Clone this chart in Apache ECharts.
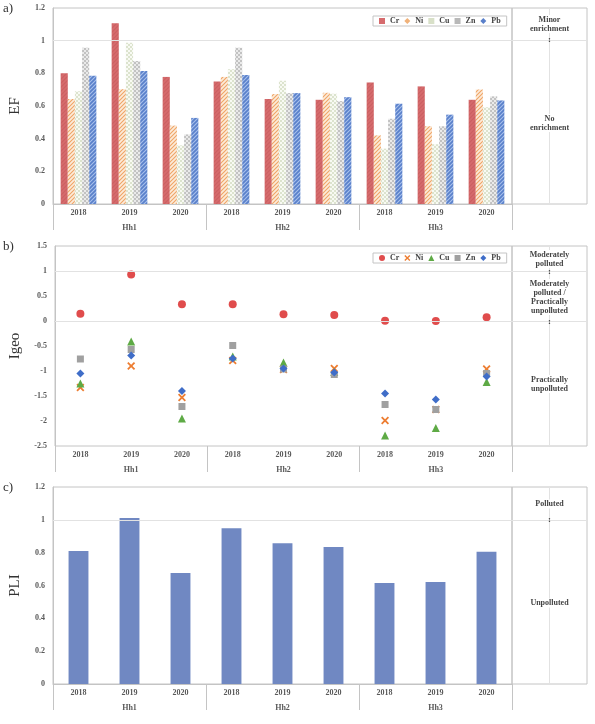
<!DOCTYPE html>
<html>
<head>
<meta charset="utf-8">
<script src="https://cdn.jsdelivr.net/npm/echarts@6/dist/echarts.min.js"></script>
<style>
html,body{margin:0;padding:0;background:#fff;}
#chart{width:595px;height:724px;}
</style>
</head>
<body>
<div id="chart"></div>
<script>
// ---- data ----
const years = ['2018','2019','2020','2018','2019','2020','2018','2019','2020'];
const groups = ['Hh1','Hh2','Hh3'];
const metals = ['Cr','Ni','Cu','Zn','Pb'];

const efCr = [0.80, 1.107, 0.778, 0.75, 0.643, 0.638, 0.744, 0.72, 0.638];
const efNi = [0.643, 0.703, 0.48, 0.778, 0.673, 0.681, 0.42, 0.476, 0.701];
const efCu = [0.69, 0.987, 0.359, 0.825, 0.754, 0.675, 0.339, 0.366, 0.593];
const efZn = [0.957, 0.876, 0.426, 0.957, 0.679, 0.63, 0.522, 0.476, 0.659];
const efPb = [0.785, 0.815, 0.527, 0.79, 0.679, 0.654, 0.614, 0.547, 0.634];

const igCr = [0.147, 0.93, 0.333, 0.333, 0.133, 0.12, 0.007, 0.0, 0.073];
const igNi = [-1.33, -0.9, -1.53, -0.79, -0.97, -0.95, -1.99, -1.77, -0.96];
const igCu = [-1.25, -0.41, -1.95, -0.71, -0.83, -1.02, -2.29, -2.14, -1.22];
const igZn = [-0.76, -0.57, -1.71, -0.49, -0.96, -1.07, -1.67, -1.77, -1.05];
const igPb = [-1.05, -0.69, -1.4, -0.75, -0.95, -1.03, -1.45, -1.57, -1.11];

const pli = [0.81, 1.011, 0.676, 0.948, 0.857, 0.835, 0.615, 0.621, 0.806];

// ---- styling helpers ----
const FONT = '"Liberation Serif", "DejaVu Serif", serif';
const GRAY = '#C4C4C4';
const LBL = '#5A5A5A';

function pattern(bg, fg, kind) {
  const c = document.createElement('canvas');
  c.width = 4; c.height = 4;
  const g = c.getContext('2d');
  g.fillStyle = bg; g.fillRect(0, 0, 4, 4);
  g.strokeStyle = fg; g.fillStyle = fg; g.lineWidth = 1.1;
  if (kind === 'diag') {
    g.beginPath();
    g.moveTo(0, 4); g.lineTo(4, 0);
    g.moveTo(-1, 1); g.lineTo(1, -1);
    g.moveTo(3, 5); g.lineTo(5, 3);
    g.stroke();
  } else {
    g.fillRect(0, 0, 2, 2); g.fillRect(2, 2, 2, 2);
  }
  return { image: c, repeat: 'repeat' };
}

const efFill = [
  pattern('#D66B6D', '#CB6062', 'diag'),
  pattern('#FCEBDA', '#EFA566', 'diag'),
  pattern('#F8FAF3', '#DCE3CE', 'dots'),
  pattern('#EAEAEA', '#C2C2C2', 'grid'),
  pattern('#5A80CA', '#A8C0EC', 'diag')
];
const legendColA = ['#D66B6D', '#F0B27A', '#D8E0C8', '#B8B8B8', '#5A80CA'];
const legendIconA = ['rect', 'diamond', 'rect', 'rect', 'diamond'];

const scColors = ['#E04C4C', '#ED7D31', '#5EAA45', '#A0A0A0', '#3F6DC8'];
const xPath = 'path://M0,1.6 L1.6,0 L5,3.4 L8.4,0 L10,1.6 L6.6,5 L10,8.4 L8.4,10 L5,6.6 L1.6,10 L0,8.4 L3.4,5 Z';
const scSymbols = ['circle', xPath, 'triangle', 'rect', 'diamond'];
const scSizes = [8, 8, 8, 7, 8];

// ---- layout ----
const PL = 49, PW = 463, BX = 512, BW = 75;
const panels = [
  { top: 8, height: 196, min: 0, max: 1.2, interval: 0.2, name: 'EF', thr: [1] },
  { top: 246, height: 200, min: -2.5, max: 1.5, interval: 0.5, name: 'Igeo', thr: [1, 0] },
  { top: 487, height: 197, min: 0, max: 1.2, interval: 0.2, name: 'PLI', thr: [1] }
];

const grid = [], xAxis = [], yAxis = [], series = [];
panels.forEach((p, i) => {
  grid.push({ left: PL, top: p.top, width: PW, height: p.height, show: true, borderColor: GRAY, borderWidth: 1, containLabel: false });
  grid.push({ left: BX, top: p.top, width: BW, height: p.height, show: true, borderColor: GRAY, borderWidth: 1, containLabel: false });
  const gMain = i * 2, gBox = i * 2 + 1;
  xAxis.push({
    type: 'category', gridIndex: gMain, data: years, position: 'bottom',
    axisLine: { show: true, lineStyle: { color: GRAY } },
    axisTick: { show: false },
    axisLabel: { margin: 5, fontSize: 8, fontWeight: 'bold', fontFamily: FONT, color: LBL, interval: 0 }
  });
  xAxis.push({
    type: 'category', gridIndex: gMain, data: groups, position: 'bottom',
    axisLine: { show: false },
    axisTick: { show: true, length: 26, lineStyle: { color: GRAY } },
    axisLabel: { margin: 20, fontSize: 8, fontWeight: 'bold', fontFamily: FONT, color: LBL }
  });
  xAxis.push({ type: 'value', gridIndex: gBox, min: 0, max: 1, show: false });
  yAxis.push({
    type: 'value', gridIndex: gMain, min: p.min, max: p.max, interval: p.interval,
    name: p.name, nameLocation: 'middle', nameGap: i === 1 ? 32 : 30,
    nameTextStyle: { fontSize: 15, fontFamily: FONT, color: '#333' },
    axisLine: { show: true, lineStyle: { color: GRAY } },
    axisTick: { show: false },
    splitLine: { show: false },
    axisLabel: { margin: 8, fontSize: 8, fontWeight: 'bold', fontFamily: FONT, color: LBL }
  });
  yAxis.push({ type: 'value', gridIndex: gBox, min: p.min, max: p.max, show: false, splitLine: { show: false } });
});

const thrLine = (vals) => ({
  silent: true, symbol: 'none', label: { show: false },
  lineStyle: { color: '#E2E2E2', type: 'solid', width: 1 },
  data: vals.map(v => ({ yAxis: v }))
});

const efData = [efCr, efNi, efCu, efZn, efPb];
metals.forEach((m, k) => {
  series.push({
    name: m, type: 'bar', xAxisIndex: 0, yAxisIndex: 0, data: efData[k],
    barGap: '0%', barCategoryGap: '30%',
    itemStyle: { color: efFill[k] },
    markLine: k === 0 ? thrLine(panels[0].thr) : undefined
  });
});
const igData = [igCr, igNi, igCu, igZn, igPb];
metals.forEach((m, k) => {
  series.push({
    name: m, type: 'scatter', xAxisIndex: 3, yAxisIndex: 2, data: igData[k],
    symbol: scSymbols[k], symbolSize: scSizes[k],
    itemStyle: { color: scColors[k], opacity: 1 },
    markLine: k === 0 ? thrLine(panels[1].thr) : undefined
  });
});
series.push({
  name: 'PLI', type: 'bar', xAxisIndex: 6, yAxisIndex: 4, data: pli,
  barCategoryGap: '61%', itemStyle: { color: '#7088C2' },
  markLine: thrLine(panels[2].thr)
});
panels.forEach((p, i) => {
  series.push({
    type: 'scatter', xAxisIndex: i * 3 + 2, yAxisIndex: i * 2 + 1, data: [[0.5, p.min]], symbolSize: 0, silent: true,
    markLine: {
      silent: true, symbol: 'none', label: { show: false },
      lineStyle: { color: '#E2E2E2', type: 'solid', width: 1 },
      data: p.thr.map(v => ({ yAxis: v })).concat([{ xAxis: 0.5 }])
    }
  });
});

// ---- annotations ----
const boxText = (txt, y) => ({
  type: 'text', x: BX + BW / 2, y: y, z: 100,
  style: { text: txt, align: 'center', verticalAlign: 'middle', fontSize: 8, fontWeight: 'bold', fontFamily: FONT, fill: '#444', lineHeight: 9, backgroundColor: '#fff', padding: [0, 1] }
});
const colon = (y) => ({
  type: 'text', x: BX + BW / 2, y: y, z: 100,
  style: { text: ':', align: 'center', verticalAlign: 'middle', fontSize: 9, fontWeight: 'bold', fontFamily: FONT, fill: '#444' }
});
const panelLbl = (t, y) => ({
  type: 'text', x: 3, y: y,
  style: { text: t, fontSize: 13, fontFamily: FONT, fill: '#333', verticalAlign: 'middle' }
});
const graphic = [
  panelLbl('a)', 9), panelLbl('b)', 247), panelLbl('c)', 488),
  boxText('Minor\nenrichment', 24), colon(40), boxText('No\nenrichment', 123),
  boxText('Moderately\npolluted', 259), colon(272),
  boxText('Moderately\npolluted /\nPractically\nunpolluted', 297), colon(322),
  boxText('Practically\nunpolluted', 384),
  boxText('Polluted', 504), colon(520), boxText('Unpolluted', 603)
];

const legendBase = {
  orient: 'horizontal', left: 373, itemWidth: 6, itemHeight: 6, itemGap: 5, itemTextGap: 3,
  padding: [1, 6, 1, 6], borderColor: GRAY, borderWidth: 1, backgroundColor: '#fff',
  selectedMode: false,
  textStyle: { fontSize: 8, fontWeight: 'bold', fontFamily: FONT, color: '#444' }
};
const legend = [
  Object.assign({}, legendBase, {
    top: 16,
    data: metals.map((m, k) => ({ name: m, icon: legendIconA[k], itemStyle: { color: legendColA[k] } }))
  }),
  Object.assign({}, legendBase, {
    top: 253,
    data: metals.map((m, k) => ({ name: m, icon: scSymbols[k], itemStyle: { color: scColors[k] } }))
  })
];

const chart = echarts.init(document.getElementById('chart'), null, { renderer: 'canvas' });
chart.setOption({
  animation: false,
  backgroundColor: '#fff',
  grid, xAxis, yAxis, series, legend, graphic
});
</script>
</body>
</html>
